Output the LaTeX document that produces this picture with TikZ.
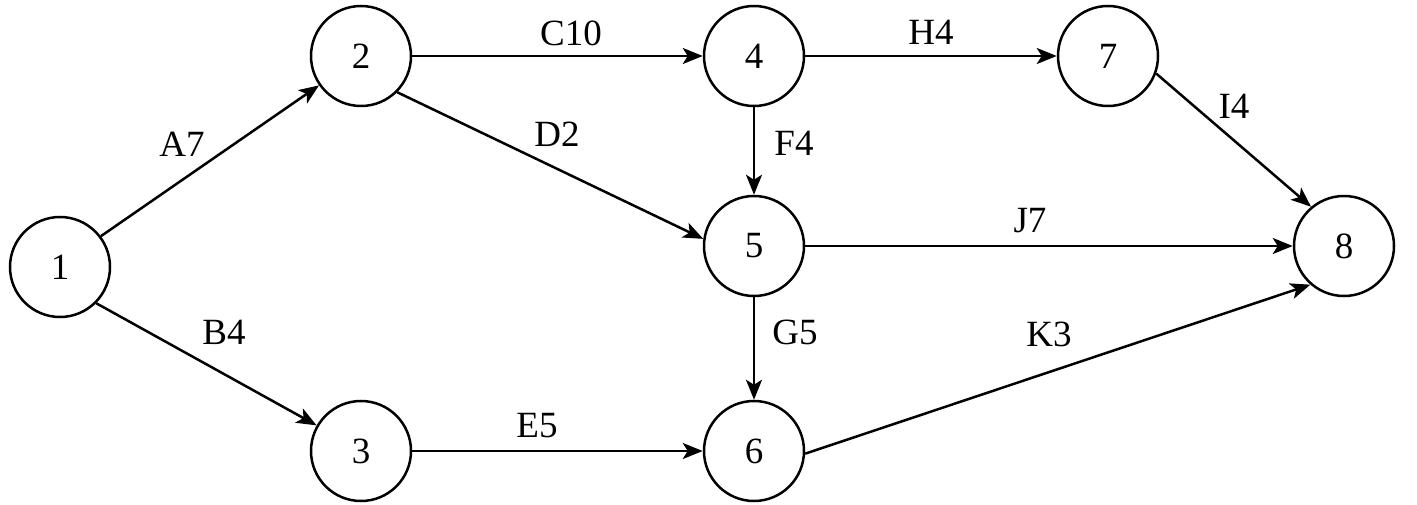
\documentclass[tikz,border=0pt]{standalone}
\usepackage{fontspec}
\setmainfont{Liberation Serif}
\usetikzlibrary{arrows.meta}
\begin{document}
\begin{tikzpicture}[x=1pt,y=1pt,
  ev/.style={circle,draw,line width=2.5pt,minimum size=100pt,inner sep=0pt,font=\fontsize{37}{40}\selectfont},
  lab/.style={inner sep=0pt,font=\fontsize{37}{40}\selectfont},
  act/.style={line width=2.5pt,-{Stealth[length=20pt,width=16pt,inset=5pt]}}]
\useasboundingbox (0,0) rectangle (1417,504);
\node[ev] (n1) at (60,237) {1};
\node[ev] (n2) at (361,448) {2};
\node[ev] (n3) at (361,53) {3};
\node[ev] (n4) at (754,448) {4};
\node[ev] (n5) at (754,258) {5};
\node[ev] (n6) at (754,53) {6};
\node[ev] (n7) at (1108,448) {7};
\node[ev] (n8) at (1344,258) {8};
\draw[act] (n1.37) -- (n2.215);
\draw[act] (n1.-45) -- (n3.150);
\draw[act] (n2) -- (n4);
\draw[act] (n2.-45) -- (n5.172);
\draw[act] (n3) -- (n6);
\draw[act] (n4) -- (n5);
\draw[act] (n4) -- (n7);
\draw[act] (n5) -- (n6);
\draw[act] (n5) -- (n8);
\draw[act] (n7.-20) -- (n8.130);
\draw[act] (n6.-3) -- (n8.229);
\node[lab] (lA) at (182,360) {A7};
\node[lab] (lB) at (224,172) {B4};
\node[lab] (lC) at (571,471) {C10};
\node[lab] (lD) at (557,370) {D2};
\node[lab] (lE) at (537,78) {E5};
\node[lab] (lF) at (794,361) {F4};
\node[lab] (lG) at (795,172) {G5};
\node[lab] (lH) at (931,472) {H4};
\node[lab] (lI) at (1234,398) {I4};
\node[lab] (lJ) at (1030,283) {J7};
\node[lab] (lK) at (1049,170) {K3};
\end{tikzpicture}
\end{document}
